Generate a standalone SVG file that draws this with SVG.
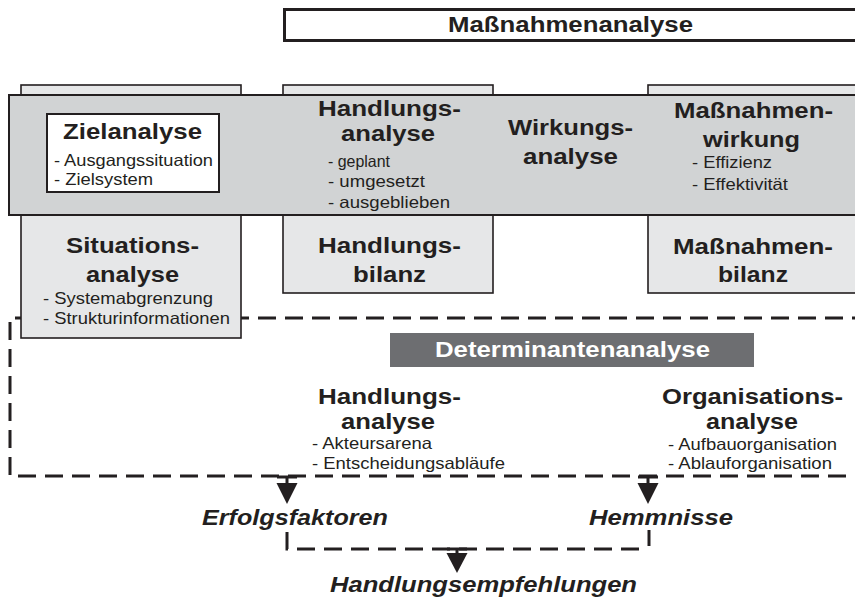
<svg xmlns="http://www.w3.org/2000/svg" width="855" height="599" viewBox="0 0 855 599">
<style>
text{font-family:"Liberation Sans",Arial,sans-serif;fill:#231f20}
.h{font-size:22px;font-weight:bold}
.s{font-size:16.5px}
.i{font-size:22px;font-weight:bold;font-style:italic}
.w{fill:#ffffff}
.tab{fill:#e6e7e8;stroke:#231f20;stroke-width:1.6}
.band{fill:#d1d3d4;stroke:#231f20;stroke-width:2}
.dash{fill:none;stroke:#231f20;stroke-width:3;stroke-dasharray:18 9}
.solid{fill:none;stroke:#231f20;stroke-width:3}
.ah{fill:#231f20}
</style>
<rect width="855" height="599" fill="#ffffff"/>
<g id="connectors">
<path class="dash" d="M 870 318 H 10 V 476 H 870"/>
<path class="dash" d="M 287 532 V 549 H 640"/>
<line class="solid" x1="649" y1="530" x2="649" y2="546"/>
<line class="solid" x1="277" y1="477" x2="297" y2="477"/>
<line class="solid" x1="287" y1="477" x2="287" y2="485"/>
<polygon class="ah" points="276.5,483 297.5,483 287,504"/>
<line class="solid" x1="638" y1="477" x2="658" y2="477"/>
<line class="solid" x1="648" y1="477" x2="648" y2="485"/>
<polygon class="ah" points="637.5,483 658.5,483 648,504"/>
<line class="solid" x1="447" y1="549" x2="467" y2="549"/>
<line class="solid" x1="457" y1="549" x2="457" y2="555"/>
<polygon class="ah" points="446.5,553 467.5,553 457,573"/>
</g>
<g id="massnahmenanalyse">
<rect x="284.5" y="9.5" width="600" height="31" fill="#ffffff" stroke="#231f20" stroke-width="3"/>
<text class="h" x="448" y="32" textLength="245" lengthAdjust="spacingAndGlyphs">Maßnahmenanalyse</text>
</g>
<g id="tabs">
<rect class="tab" x="21" y="85" width="220" height="253"/>
<rect class="tab" x="283" y="85" width="210" height="208"/>
<rect class="tab" x="648" y="85" width="260" height="208"/>
</g>
<g id="band">
<rect class="band" x="9" y="95" width="900" height="120"/>
</g>
<g id="zielanalyse">
<rect x="47" y="114" width="172" height="78" fill="#ffffff" stroke="#231f20" stroke-width="2"/>
<text class="h" x="63" y="139" textLength="139" lengthAdjust="spacingAndGlyphs">Zielanalyse</text>
<text class="s" x="54" y="166" textLength="159" lengthAdjust="spacingAndGlyphs">- Ausgangssituation</text>
<text class="s" x="54" y="185" textLength="99" lengthAdjust="spacingAndGlyphs">- Zielsystem</text>
</g>
<g id="handlungsanalyse-top">
<text class="h" x="318" y="116" textLength="143" lengthAdjust="spacingAndGlyphs">Handlungs-</text>
<text class="h" x="341" y="141" textLength="94" lengthAdjust="spacingAndGlyphs">analyse</text>
<text class="s" x="328" y="167" textLength="62" lengthAdjust="spacingAndGlyphs">- geplant</text>
<text class="s" x="328" y="187" textLength="97" lengthAdjust="spacingAndGlyphs">- umgesetzt</text>
<text class="s" x="328" y="208" textLength="122" lengthAdjust="spacingAndGlyphs">- ausgeblieben</text>
</g>
<g id="wirkungsanalyse">
<text class="h" x="508" y="135" textLength="125" lengthAdjust="spacingAndGlyphs">Wirkungs-</text>
<text class="h" x="523" y="164" textLength="95" lengthAdjust="spacingAndGlyphs">analyse</text>
</g>
<g id="massnahmenwirkung">
<text class="h" x="674" y="118" textLength="159" lengthAdjust="spacingAndGlyphs">Maßnahmen-</text>
<text class="h" x="703" y="147" textLength="97" lengthAdjust="spacingAndGlyphs">wirkung</text>
<text class="s" x="692" y="168" textLength="80" lengthAdjust="spacingAndGlyphs">- Effizienz</text>
<text class="s" x="692" y="190" textLength="96" lengthAdjust="spacingAndGlyphs">- Effektivität</text>
</g>
<g id="situationsanalyse">
<text class="h" x="66" y="253" textLength="133" lengthAdjust="spacingAndGlyphs">Situations-</text>
<text class="h" x="86" y="282" textLength="93" lengthAdjust="spacingAndGlyphs">analyse</text>
<text class="s" x="43" y="304" textLength="170" lengthAdjust="spacingAndGlyphs">- Systemabgrenzung</text>
<text class="s" x="43" y="324" textLength="187" lengthAdjust="spacingAndGlyphs">- Strukturinformationen</text>
</g>
<g id="handlungsbilanz">
<text class="h" x="318" y="253" textLength="143" lengthAdjust="spacingAndGlyphs">Handlungs-</text>
<text class="h" x="353" y="282" textLength="73" lengthAdjust="spacingAndGlyphs">bilanz</text>
</g>
<g id="massnahmenbilanz">
<text class="h" x="673" y="254" textLength="160" lengthAdjust="spacingAndGlyphs">Maßnahmen-</text>
<text class="h" x="718" y="282" textLength="70" lengthAdjust="spacingAndGlyphs">bilanz</text>
</g>
<g id="determinantenanalyse">
<rect x="390" y="333" width="364" height="34" fill="#6d6e71"/>
<text class="h w" x="435" y="357" textLength="275" lengthAdjust="spacingAndGlyphs">Determinantenanalyse</text>
</g>
<g id="handlungsanalyse-det">
<text class="h" x="318" y="404" textLength="143" lengthAdjust="spacingAndGlyphs">Handlungs-</text>
<text class="h" x="341" y="429" textLength="94" lengthAdjust="spacingAndGlyphs">analyse</text>
<text class="s" x="312" y="449" textLength="120" lengthAdjust="spacingAndGlyphs">- Akteursarena</text>
<text class="s" x="312" y="469" textLength="193" lengthAdjust="spacingAndGlyphs">- Entscheidungsabläufe</text>
</g>
<g id="organisationsanalyse">
<text class="h" x="662" y="404" textLength="181" lengthAdjust="spacingAndGlyphs">Organisations-</text>
<text class="h" x="706" y="429" textLength="92" lengthAdjust="spacingAndGlyphs">analyse</text>
<text class="s" x="668" y="450" textLength="169" lengthAdjust="spacingAndGlyphs">- Aufbauorganisation</text>
<text class="s" x="668" y="469" textLength="164" lengthAdjust="spacingAndGlyphs">- Ablauforganisation</text>
</g>
<g id="erfolgsfaktoren">
<text class="i" x="202" y="525" textLength="186" lengthAdjust="spacingAndGlyphs">Erfolgsfaktoren</text>
</g>
<g id="hemmnisse">
<text class="i" x="589" y="525" textLength="144" lengthAdjust="spacingAndGlyphs">Hemmnisse</text>
</g>
<g id="handlungsempfehlungen">
<text class="i" x="330" y="592" textLength="307" lengthAdjust="spacingAndGlyphs">Handlungsempfehlungen</text>
</g>
</svg>
